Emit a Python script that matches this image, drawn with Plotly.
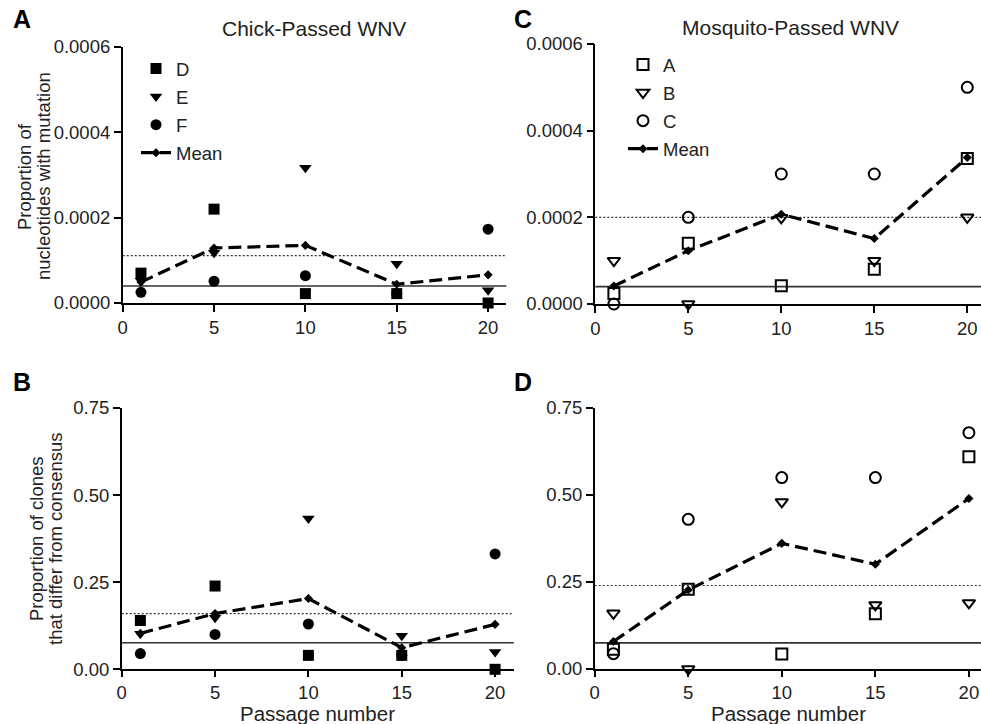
import plotly.graph_objects as go

W, H = 981, 724
FONT = "Liberation Sans, Arial, Helvetica, sans-serif"

# ---------------- data ----------------
passage = [1, 5, 10, 15, 20]
x_ticks = [0, 5, 10, 15, 20]

# Panel A: chick-passed, proportion of nucleotides with mutation
chick_nt_D = [0.00007, 0.00022, 0.000022, 0.000022, 0.0]
chick_nt_E = [0.000052, 0.000118, 0.000317, 0.000092, 0.00003]
chick_nt_F = [0.000025, 0.000051, 0.000064, 0.000022, 0.000173]
chick_nt_mean = [0.000049, 0.000129, 0.000135, 0.000044, 0.000066]
chick_nt_dotted = 0.000111
chick_nt_solid = 0.00004

# Panel C: mosquito-passed, proportion of nucleotides with mutation
mosq_nt_A = [0.000024, 0.00014, 0.000042, 0.00008, 0.000336]
mosq_nt_B = [0.0001, 0.0, 0.000199, 0.0001, 0.0002]
mosq_nt_C = [0.0, 0.0002, 0.0003, 0.0003, 0.0005]
mosq_nt_mean = [0.0000415, 0.000123, 0.000207, 0.000151, 0.000338]
mosq_nt_dotted = 0.0002
mosq_nt_solid = 0.00004

# Panel B: chick-passed, proportion of clones that differ from consensus
chick_cl_D = [0.14, 0.239, 0.04, 0.04, 0.0]
chick_cl_E = [0.102, 0.148, 0.433, 0.096, 0.05]
chick_cl_F = [0.045, 0.10, 0.13, 0.04, 0.331]
chick_cl_mean = [0.103, 0.16, 0.203, 0.062, 0.129]
chick_cl_dotted = 0.16
chick_cl_solid = 0.076

# Panel D: mosquito-passed, proportion of clones that differ from consensus
mosq_cl_A = [0.057, 0.229, 0.043, 0.159, 0.61]
mosq_cl_B = [0.16, 0.0, 0.48, 0.184, 0.19]
mosq_cl_C = [0.044, 0.43, 0.55, 0.55, 0.679]
mosq_cl_mean = [0.079, 0.227, 0.361, 0.301, 0.49]
mosq_cl_dotted = 0.24
mosq_cl_solid = 0.075

nt_ticks = [0, 0.0002, 0.0004, 0.0006]
cl_ticks = [0, 0.25, 0.5, 0.75]

# ---------------- figure ----------------
fig = go.Figure()

MS = 11

def add_marker(name, x, y, symbol, xa, ya, legend, rank, show, line_w=0):
    fig.add_trace(go.Scatter(
        x=x, y=y, mode="markers", name=name,
        marker=dict(symbol=symbol, size=MS, color="black",
                    line=dict(color="black", width=line_w)),
        xaxis=xa, yaxis=ya, legend=legend, legendrank=rank,
        legendgroup=f"{legend}-{name}",
        showlegend=show, cliponaxis=False))

def add_mean(x, y, xa, ya, legend, show):
    fig.add_trace(go.Scatter(
        x=x, y=y, mode="lines+markers", name="Mean",
        line=dict(color="black", width=3.2, dash="13px,6px"),
        marker=dict(symbol="diamond", size=7, color="black"),
        xaxis=xa, yaxis=ya, legend=legend, legendrank=4,
        legendgroup=f"{legend}-Mean",
        showlegend=show, cliponaxis=False))

# Panel A (filled symbols), drawn F, E, D so D sits on top
add_marker("F", passage, chick_nt_F, "circle", "x", "y", "legend", 3, True)
add_marker("E", passage, chick_nt_E, "triangle-down", "x", "y", "legend", 2, True)
add_marker("D", passage, chick_nt_D, "square", "x", "y", "legend", 1, True)
add_mean(passage, chick_nt_mean, "x", "y", "legend", True)

# Panel C (open symbols)
add_marker("A", passage, mosq_nt_A, "square-open", "x2", "y2", "legend2", 1, True, 2)
add_marker("B", passage, mosq_nt_B, "triangle-down-open", "x2", "y2", "legend2", 2, True, 2)
add_marker("C", passage, mosq_nt_C, "circle-open", "x2", "y2", "legend2", 3, True, 2)
add_mean(passage, mosq_nt_mean, "x2", "y2", "legend2", True)

# Panel B
add_marker("F", passage, chick_cl_F, "circle", "x3", "y3", "legend", 3, False)
add_marker("E", passage, chick_cl_E, "triangle-down", "x3", "y3", "legend", 2, False)
add_marker("D", passage, chick_cl_D, "square", "x3", "y3", "legend", 1, False)
add_mean(passage, chick_cl_mean, "x3", "y3", "legend", False)

# Panel D
add_marker("A", passage, mosq_cl_A, "square-open", "x4", "y4", "legend2", 1, False, 2)
add_marker("B", passage, mosq_cl_B, "triangle-down-open", "x4", "y4", "legend2", 2, False, 2)
add_marker("C", passage, mosq_cl_C, "circle-open", "x4", "y4", "legend2", 3, False, 2)
add_mean(passage, mosq_cl_mean, "x4", "y4", "legend2", False)

# reference lines
for xa, ya, dotted, solid in [("x", "y", chick_nt_dotted, chick_nt_solid),
                              ("x2", "y2", mosq_nt_dotted, mosq_nt_solid),
                              ("x3", "y3", chick_cl_dotted, chick_cl_solid),
                              ("x4", "y4", mosq_cl_dotted, mosq_cl_solid)]:
    fig.add_shape(type="line", xref=f"{xa} domain", yref=ya, x0=0, x1=1,
                  y0=dotted, y1=dotted, layer="below",
                  line=dict(color="#333", width=1.2, dash="2px,2px"))
    fig.add_shape(type="line", xref=f"{xa} domain", yref=ya, x0=0, x1=1,
                  y0=solid, y1=solid, layer="below",
                  line=dict(color="#333", width=1.6))

def px_x(p):
    return p / W

def px_y(p):
    return 1 - p / H

axis_common = dict(showgrid=False, zeroline=False, showline=True,
                   linecolor="black", linewidth=1.5, ticks="outside",
                   tickwidth=1.5, tickcolor="black",
                   tickfont=dict(family=FONT, size=18.5, color="#222"),
                   automargin=False)

title_font = dict(family=FONT, size=18.5, color="#222")
big_font = dict(family=FONT, size=21, color="#222")
xtitle_font = dict(family=FONT, size=20.5, color="#222")

fig.update_layout(
    xaxis=dict(domain=[px_x(122.7), px_x(122.7 + 21 * 18.27)], range=[0, 21],
               tickvals=x_ticks, anchor="y", ticklen=7, **axis_common),
    yaxis=dict(domain=[px_y(303), px_y(47)], range=[0, 0.0006],
               tickvals=nt_ticks, tickformat=".4f", anchor="x", ticklen=7,
               **axis_common),
    xaxis2=dict(domain=[px_x(595.3), 1], range=[0, (981 - 595.3) / 18.6],
                tickvals=x_ticks, anchor="y2", ticklen=7, **axis_common),
    yaxis2=dict(domain=[px_y(304), px_y(44)], range=[0, 0.0006],
                tickvals=nt_ticks, tickformat=".4f", anchor="x2", ticklen=7,
                **axis_common),
    xaxis3=dict(domain=[px_x(121.7), px_x(121.7 + 21 * 18.67)], range=[0, 21],
                tickvals=x_ticks, anchor="y3", ticklen=6, **axis_common),
    yaxis3=dict(domain=[px_y(669.3), px_y(408)], range=[0, 0.75],
                tickvals=cl_ticks, tickformat=".2f", anchor="x3", ticklen=7,
                **axis_common),
    xaxis4=dict(domain=[px_x(594.7), 1], range=[0, (981 - 594.7) / 18.71],
                tickvals=x_ticks, anchor="y4", ticklen=6, **axis_common),
    yaxis4=dict(domain=[px_y(669), px_y(408)], range=[0, 0.75],
                tickvals=cl_ticks, tickformat=".2f", anchor="x4", ticklen=7,
                **axis_common),
    legend=dict(x=px_x(136), y=px_y(50), xanchor="left", yanchor="top",
                bgcolor="rgba(0,0,0,0)", traceorder="grouped", tracegroupgap=1,
                font=dict(family=FONT, size=18.5, color="#222"),
                itemwidth=30),
    legend2=dict(x=px_x(623), y=px_y(46), xanchor="left", yanchor="top",
                 bgcolor="rgba(0,0,0,0)", traceorder="grouped", tracegroupgap=1,
                 font=dict(family=FONT, size=18.5, color="#222"),
                 itemwidth=30),
    width=W, height=H,
    margin=dict(l=0, r=0, t=0, b=0),
    paper_bgcolor="white", plot_bgcolor="white",
    font=dict(family=FONT, color="#222"),
)

# y-axis titles (two rotated lines each)
for text, tx, ty in [("Proportion of", 24, 177),
                     ("nucleotides with mutation", 43, 176),
                     ("Proportion of clones", 36, 539),
                     ("that differ from consensus", 55, 539)]:
    fig.add_annotation(text=text, x=px_x(tx), y=px_y(ty), xref="paper", yref="paper",
                       showarrow=False, xanchor="center", yanchor="middle",
                       textangle=-90, font=title_font)

# x-axis titles for the bottom row
for tx in [317, 788]:
    fig.add_annotation(text="Passage number", x=px_x(tx), y=px_y(713.5),
                       xref="paper", yref="paper", showarrow=False,
                       xanchor="center", yanchor="middle", font=xtitle_font)

for text, tx, ty in [("Chick-Passed WNV", 314, 28), ("Mosquito-Passed WNV", 790, 27)]:
    fig.add_annotation(text=text, x=px_x(tx), y=px_y(ty), xref="paper", yref="paper",
                       showarrow=False, xanchor="center", yanchor="middle",
                       font=big_font)

for letter, lx, ly in [("A", 11, 19), ("C", 512, 19), ("B", 11, 382), ("D", 512, 382)]:
    fig.add_annotation(text=f"<b>{letter}</b>", x=px_x(lx), y=px_y(ly),
                       xref="paper", yref="paper", showarrow=False,
                       xanchor="left", yanchor="middle",
                       font=dict(family=FONT, size=25, color="black"))

fig.write_html(
    "out.html",
    config={"displayModeBar": False},
    post_script="document.body.style.margin='0';document.body.style.overflow='hidden';"
)
